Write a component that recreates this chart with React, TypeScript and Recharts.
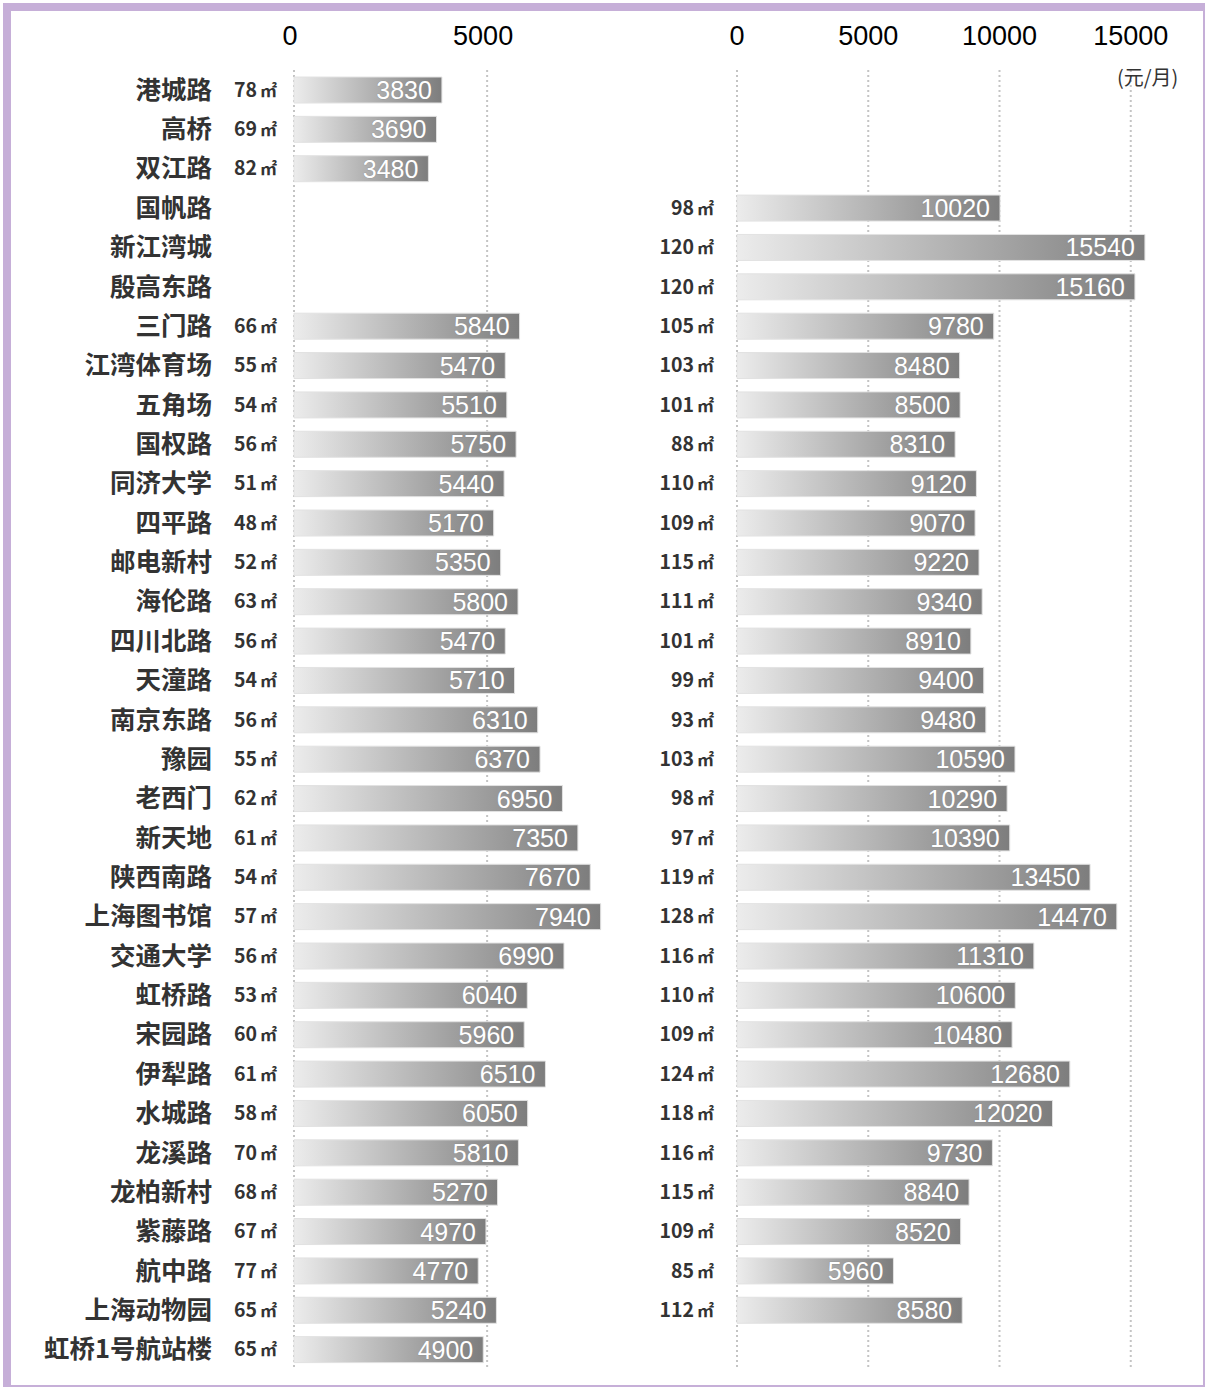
import { Bar, BarChart, CartesianGrid, XAxis, YAxis } from "recharts";

const stations = [
  "港城路", "高桥", "双江路", "国帆路", "新江湾城", "殷高东路", "三门路",
  "江湾体育场", "五角场", "国权路", "同济大学", "四平路", "邮电新村", "海伦路",
  "四川北路", "天潼路", "南京东路", "豫园", "老西门", "新天地", "陕西南路",
  "上海图书馆", "交通大学", "虹桥路", "宋园路", "伊犁路", "水城路", "龙溪路",
  "龙柏新村", "紫藤路", "航中路", "上海动物园", "虹桥1号航站楼",
];

// 一室户
const oneRoomArea = [
  78, 69, 82, null, null, null, 66, 55, 54, 56, 51, 48, 52, 63, 56, 54, 56,
  55, 62, 61, 54, 57, 56, 53, 60, 61, 58, 70, 68, 67, 77, 65, 65,
];
const oneRoomRent = [
  3830, 3690, 3480, null, null, null, 5840, 5470, 5510, 5750, 5440, 5170,
  5350, 5800, 5470, 5710, 6310, 6370, 6950, 7350, 7670, 7940, 6990, 6040,
  5960, 6510, 6050, 5810, 5270, 4970, 4770, 5240, 4900,
];

// 二室户
const twoRoomArea = [
  null, null, null, 98, 120, 120, 105, 103, 101, 88, 110, 109, 115, 111, 101,
  99, 93, 103, 98, 97, 119, 128, 116, 110, 109, 124, 118, 116, 115, 109, 85,
  112, null,
];
const twoRoomRent = [
  null, null, null, 10020, 15540, 15160, 9780, 8480, 8500, 8310, 9120, 9070,
  9220, 9340, 8910, 9400, 9480, 10590, 10290, 10390, 13450, 14470, 11310,
  10600, 10480, 12680, 12020, 9730, 8840, 8520, 5960, 8580, null,
];

const oneRoomTicks = [0, 5000];
const twoRoomTicks = [0, 5000, 10000, 15000];

const oneRoomData = stations.map((name, i) => ({
  name,
  area: oneRoomArea[i],
  value: oneRoomRent[i],
}));
const twoRoomData = stations.map((name, i) => ({
  name,
  area: twoRoomArea[i],
  value: twoRoomRent[i],
}));

const CJK = '"Noto Sans CJK SC", "Noto Sans", sans-serif';
const LATIN = '"Liberation Sans", Arial, sans-serif';

function AxisTick({ x, y, payload, shift = 0 }: any) {
  return (
    <text x={x + shift} y={y} textAnchor="middle" fontSize={27} fill="#000" fontFamily={LATIN}>
      {payload.value}
    </text>
  );
}

function AreaText({ x, y, area }: { x: number; y: number; area: number | null }) {
  if (area == null) return null;
  return (
    <text x={x} y={y + 7} textAnchor="end" fontFamily={CJK} fontWeight={700} fill="#333">
      <tspan fontSize={19.5}>{area}</tspan>
      <tspan fontSize={17} dx={3}>㎡</tspan>
    </text>
  );
}

function OneRoomTick({ x, y, payload }: any) {
  const area = oneRoomArea[payload.index];
  return (
    <g>
      <text x={x - 82} y={y + 9} textAnchor="end" fontSize={25.5} fontWeight={700} fill="#333" fontFamily={CJK}>
        {payload.value}
      </text>
      <AreaText x={x - 17} y={y} area={area} />
    </g>
  );
}

function TwoRoomTick({ x, y, payload }: any) {
  return <AreaText x={x - 23} y={y} area={twoRoomArea[payload.index]} />;
}

function ValueLabel({ x, y, width, height, value }: any) {
  if (value == null) return null;
  return (
    <text
      x={x + width - 10}
      y={y + height / 2 + 9}
      textAnchor="end"
      fontSize={25}
      fill="#fff"
      stroke="#8a8a8a"
      strokeWidth={0.6}
      paintOrder="stroke"
      fontFamily={LATIN}
    >
      {value}
    </text>
  );
}

function RentChart({ data, ticks, max, width, yWidth, right, tick, tickShift, gradId }: any) {
  return (
    <BarChart
      width={width}
      height={1387}
      data={data}
      layout="vertical"
      margin={{ top: 10, right, bottom: 18, left: 0 }}
      barCategoryGap={0}
    >
      <defs>
        <linearGradient id={gradId} x1="0" y1="0" x2="1" y2="0">
          <stop offset="0%" stopColor="#ececec" />
          <stop offset="100%" stopColor="#7d7d7d" />
        </linearGradient>
      </defs>
      <CartesianGrid
        horizontal={false}
        verticalValues={ticks}
        stroke="#c4c4c4"
        strokeWidth={2}
        strokeDasharray="2 3"
      />
      <XAxis
        type="number"
        orientation="top"
        domain={[0, max]}
        ticks={ticks}
        height={60}
        axisLine={false}
        tickLine={false}
        tickSize={0}
        tickMargin={25}
        tick={<AxisTick shift={tickShift} />}
        interval={0}
      />
      <YAxis
        type="category"
        dataKey="name"
        width={yWidth}
        axisLine={false}
        tickLine={false}
        tickSize={0}
        tickMargin={0}
        interval={0}
        tick={tick}
      />
      <Bar
        dataKey="value"
        barSize={26}
        fill={`url(#${gradId})`}
        stroke="#e2e2e2"
        strokeWidth={1}
        isAnimationActive={false}
        label={<ValueLabel />}
      />
    </BarChart>
  );
}

export default function App() {
  return (
    <div
      style={{
        position: "absolute",
        left: 0,
        top: 0,
        width: 1205,
        height: 1387,
        background: "#fff",
      }}
    >
      <div
        style={{
          position: "absolute",
          left: 3,
          top: 3,
          width: 1202,
          height: 1384,
          boxSizing: "border-box",
          borderStyle: "solid",
          borderColor: "#c6afd8",
          borderWidth: "8px 2px 2px 8px",
        }}
      />
      <div style={{ position: "absolute", left: 0, top: 0 }}>
        <RentChart
          data={oneRoomData}
          ticks={oneRoomTicks}
          max={8000}
          width={620}
          yWidth={294}
          right={17}
          tick={<OneRoomTick />}
          tickShift={-4}
          gradId="oneRoomGrad"
        />
      </div>
      <div style={{ position: "absolute", left: 620, top: 0 }}>
        <RentChart
          data={twoRoomData}
          ticks={twoRoomTicks}
          max={16000}
          width={585}
          yWidth={117}
          right={48}
          tick={<TwoRoomTick />}
          tickShift={0}
          gradId="twoRoomGrad"
        />
      </div>
      <div
        style={{
          position: "absolute",
          left: 1117,
          top: 62,
          fontSize: 20,
          fontFamily: CJK,
          color: "#333",
        }}
      >
        (元/月)
      </div>
    </div>
  );
}
